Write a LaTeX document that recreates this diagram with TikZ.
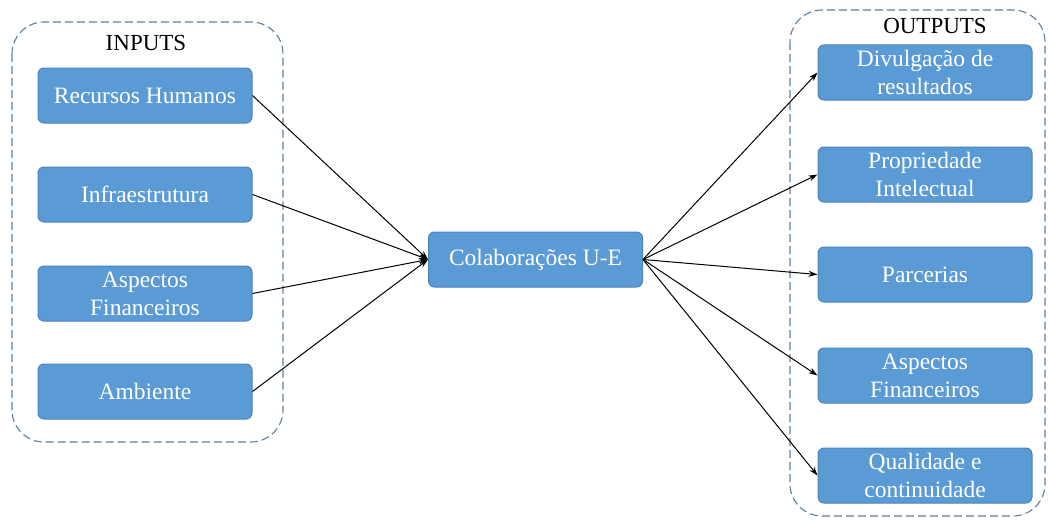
\documentclass[tikz,border=0pt]{standalone}
\usepackage{fontspec}
\setmainfont{Liberation Serif}
\usetikzlibrary{arrows.meta}
\definecolor{boxfill}{HTML}{5B9BD5}
\definecolor{boxline}{HTML}{4A84BC}
\definecolor{grpline}{HTML}{5A7E9E}
\tikzset{
  item/.style={draw=boxline, line width=1pt, fill=boxfill, rounded corners=6pt,
    minimum width=214pt, minimum height=55pt, text=white, align=center,
    font=\fontsize{23.5}{28}\selectfont, inner sep=1pt},
  group/.style={draw=grpline, dashed, dash pattern=on 8pt off 4pt, line width=1.1pt, rounded corners=32pt},
  title/.style={font=\fontsize{23}{26}\selectfont, text=black},
  conn/.style={-{Stealth[length=9pt,width=6pt]}, line width=1pt, black}
}
\begin{document}
\begin{tikzpicture}[x=1pt,y=-1pt]
\useasboundingbox (0,0) rectangle (1048,519);
\draw[group] (12,22) rectangle (283,442);
\draw[group] (790,10) rectangle (1045,516);
\node[title] (tin) at (146,43) {INPUTS};
\node[title] (tout) at (935,26) {OUTPUTS};
\node[item] (i1) at (145,95.5) {Recursos Humanos};
\node[item] (i2) at (145,194.5) {Infraestrutura};
\node[item] (i3) at (145,293.5) {Aspectos\\Financeiros};
\node[item] (i4) at (145,391.5) {Ambiente};
\node[item] (c) at (535.5,259.5) {Colaborações U-E};
\node[item] (o1) at (925,72.5) {Divulgação de\\resultados};
\node[item] (o2) at (925,174.5) {Propriedade\\Intelectual};
\node[item] (o3) at (925,274.5) {Parcerias};
\node[item] (o4) at (925,375.5) {Aspectos\\Financeiros};
\node[item] (o5) at (925,475.5) {Qualidade e\\continuidade};
\foreach \n in {i1,i2,i3,i4} \draw[conn] (\n.east) -- (c.west);
\foreach \n in {o1,o2,o3,o4,o5} \draw[conn] (c.east) -- (\n.west);
\end{tikzpicture}
\end{document}
